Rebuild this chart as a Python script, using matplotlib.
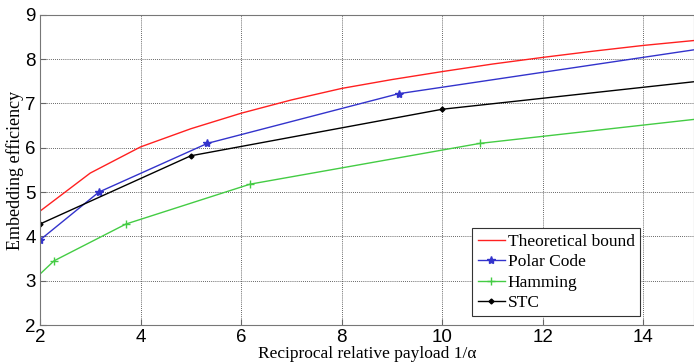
import matplotlib
matplotlib.use('Agg')
import matplotlib.pyplot as plt

# Theoretical bound
bound_x = [2, 3, 4, 5, 6, 7, 8, 9, 10, 11, 12, 13, 14, 15]
bound_y = [4.57, 5.43, 6.02, 6.43, 6.78, 7.08, 7.34, 7.54, 7.72, 7.89, 8.04, 8.18, 8.31, 8.42]

# Polar code
polar_x = [2, 3.17, 5.33, 9.13, 15]
polar_y = [3.92, 5.0, 6.10, 7.22, 8.21]

# Hamming
ham_x = [2, 2.28, 3.71, 6.18, 10.75, 15]
ham_y = [3.15, 3.45, 4.28, 5.18, 6.1, 6.64]
ham_mark = [1, 2, 3, 4]

# STC
stc_x = [2, 5, 10, 15]
stc_y = [4.28, 5.82, 6.87, 7.49]
stc_mark = [0, 1, 2]

fig = plt.figure(figsize=(6.94, 3.62), dpi=100)
ax = fig.add_axes([0.0576, 0.102, 0.942, 0.857])

ax.plot(bound_x, bound_y, color='#ff2020', lw=1.0, label='Theoretical bound')
ax.plot(polar_x, polar_y, color='#3333cc', lw=1.0, marker='*', markersize=6,
        markevery=[0, 1, 2, 3], label='Polar Code')
ax.plot(ham_x, ham_y, color='#44cc44', lw=1.0, marker='+', markersize=6,
        markevery=ham_mark, label='Hamming')
ax.plot(stc_x, stc_y, color='black', lw=1.0, marker='D', markersize=2.5,
        markevery=stc_mark, label='STC')

ax.set_xlim(2, 15)
ax.set_ylim(2, 9)
ax.set_xticks([2, 4, 6, 8, 10, 12, 14])
ax.set_yticks([2, 3, 4, 5, 6, 7, 8, 9])
ax.grid(True, color='#333333', linestyle=(0, (1, 1.5)), linewidth=0.6)
ax.tick_params(direction='in', labelsize=13.5, length=4, pad=3,
               color='#666666')
for lab in ax.get_xticklabels() + ax.get_yticklabels():
    lab.set_family('Liberation Sans')
for s in ax.spines.values():
    s.set_color('#777777')

ax.set_xlabel('Reciprocal relative payload 1/\u03b1', family='Liberation Serif',
              fontsize=12.5, labelpad=0)
ax.set_ylabel('Embedding efficiency', family='Liberation Serif', fontsize=13,
              labelpad=1)

leg = ax.legend(loc='lower right', bbox_to_anchor=(0.918, 0.028),
                prop={'family': 'Liberation Serif', 'size': 12.5},
                handlelength=1.6, handletextpad=0.15, borderpad=0.3,
                labelspacing=0.25, borderaxespad=0.0,
                fancybox=False, framealpha=1)
leg.get_frame().set_edgecolor('#333333')
leg.get_frame().set_linewidth(0.8)

fig.savefig('out.png', dpi=100)
